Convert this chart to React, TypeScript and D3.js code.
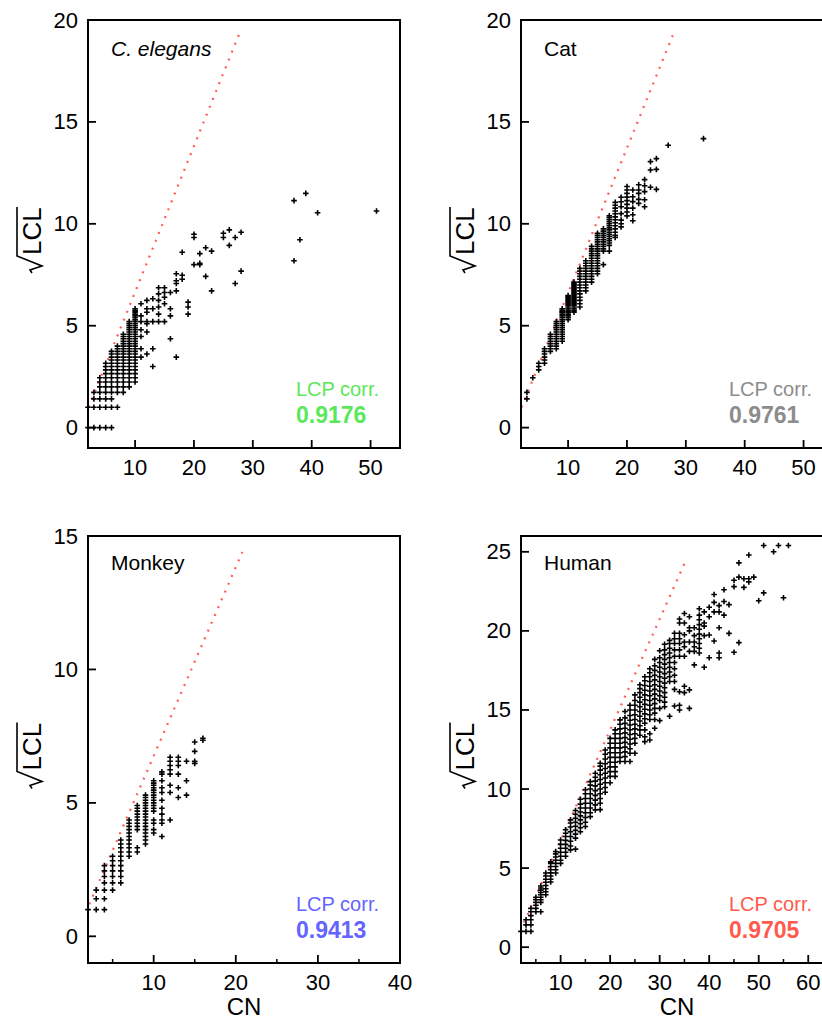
import React from 'react';
import * as d3 from 'd3';

// each row: [CN, list of sqrt(LCL) values]
const celegansCols: [number, number[]][] = [
  [2, [0, 1]],
  [3, [0, 1, 1.41, 1.73]],
  [4, [0, 1, 1.41, 1.73, 2, 2.24, 2.45]],
  [5, [0, 1, 1.41, 1.73, 2, 2.24, 2.45, 2.65, 2.83, 3, 3.16]],
  [6, [0, 1, 1.41, 1.73, 2, 2.24, 2.45, 2.65, 2.83, 3, 3.16, 3.32, 3.46, 3.61, 3.74]],
  [7, [1, 1.73, 2, 2.24, 2.45, 2.65, 2.83, 3, 3.16, 3.32, 3.46, 3.61, 3.74, 3.87, 4]],
  [8, [1.73, 2, 2.24, 2.45, 2.65, 2.83, 3, 3.16, 3.32, 3.46, 3.61, 3.74, 3.87, 4, 4.12, 4.24, 4.36, 4.47, 4.58]],
  [9, [2, 2.24, 2.45, 2.65, 2.83, 3, 3.16, 3.32, 3.46, 3.61, 3.74, 3.87, 4, 4.12, 4.24, 4.36, 4.47, 4.58, 4.69, 4.8, 4.9, 5, 5.1, 5.2]],
  [10, [2.24, 2.45, 2.65, 2.83, 3, 3.16, 3.32, 3.46, 3.61, 3.74, 3.87, 4, 4.12, 4.24, 4.36, 4.47, 4.58, 4.69, 4.8, 4.9, 5, 5.1, 5.2, 5.29, 5.39, 5.48, 5.57, 5.66, 5.74, 5.83]],
  [11, [3.46, 3.87, 4.47, 4.8, 5.2, 5.48, 6.08]],
  [12, [3.61, 4.69, 5.1, 5.2, 5.66, 5.83, 6.24]],
  [13, [3.0, 3.87, 5.2, 5.83, 6.32]],
  [14, [5.2, 5.57, 5.92, 6.24, 6.56, 6.86]],
  [15, [5.2, 6.08, 6.4, 6.63, 6.86]],
  [16, [4.36, 5.48, 5.83, 6.63]],
  [17, [3.46, 6.71, 7.07, 7.21, 7.55]],
  [18, [7.28, 7.48, 8.6]],
  [19, [5.57, 5.92, 6.16]],
  [20, [8, 9.33, 9.49]],
  [21, [8.0, 8.06, 8.54]],
  [22, [7.42, 8.83]],
  [23, [6.71, 8.66]],
  [25, [9.33, 9.54]],
  [26, [8.94, 9.7]],
  [27, [7.07, 9.33]],
  [28, [7.68, 9.59]],
  [37, [8.19, 11.14]],
  [38, [9.22]],
  [39, [11.49]],
  [41, [10.54]],
  [51, [10.63]],
];

const catCols: [number, number[]][] = [
  [3, [1.41, 1.73]],
  [4, [2.45]],
  [5, [2.83, 3, 3.16]],
  [6, [3.16, 3.32, 3.46, 3.61, 3.74, 3.87]],
  [7, [3.74, 3.87, 4, 4.12, 4.24, 4.36, 4.47, 4.58]],
  [8, [3.87, 4, 4.12, 4.24, 4.36, 4.47, 4.58, 4.69, 4.8, 4.9, 5, 5.1, 5.2]],
  [9, [4.24, 4.36, 4.47, 4.58, 4.69, 4.8, 4.9, 5, 5.1, 5.2, 5.29, 5.39, 5.48, 5.57, 5.66, 5.74, 5.83]],
  [10, [5.29, 5.39, 5.48, 5.57, 5.66, 5.74, 5.83, 5.92, 6, 6.08, 6.16, 6.24, 6.32, 6.4, 6.48]],
  [11, [5.66, 5.74, 5.83, 5.92, 6, 6.08, 6.16, 6.24, 6.32, 6.4, 6.48, 6.56, 6.63, 6.71, 6.78, 6.86, 6.93, 7, 7.07, 7.14]],
  [12, [5.92, 6.08, 6.24, 6.4, 6.56, 6.71, 6.86, 7, 7.14, 7.28, 7.42, 7.55, 7.68, 7.81]],
  [13, [6.71, 6.86, 7, 7.14, 7.28, 7.42, 7.55, 7.68, 7.81, 7.94, 8.06, 8.19]],
  [14, [7.14, 7.28, 7.42, 7.55, 7.68, 7.81, 7.94, 8.06, 8.19, 8.31, 8.43, 8.54, 8.66, 8.77, 8.89]],
  [15, [7.55, 7.68, 7.81, 7.94, 8.06, 8.19, 8.31, 8.43, 8.54, 8.66, 8.77, 8.89, 9, 9.11, 9.22, 9.33, 9.43, 9.54]],
  [16, [8, 8.66, 8.77, 8.89, 9, 9.11, 9.22, 9.33, 9.43, 9.54, 9.64, 9.75]],
  [17, [8.66, 8.94, 9.06, 9.17, 9.27, 9.38, 9.49, 9.59, 9.7, 9.8, 9.9, 10, 10.1, 10.2, 10.3, 10.39]],
  [18, [9.33, 9.43, 9.59, 9.75, 9.9, 10.05, 10.2, 10.34, 10.49, 10.63, 10.77, 10.91, 11.05]],
  [19, [9.85, 10.0, 10.18, 10.5, 10.84, 11.08, 11.3]],
  [20, [10.39, 10.58, 10.77, 10.95, 11.14, 11.31, 11.49, 11.66, 11.83]],
  [21, [10.15, 10.44, 10.77, 11.09, 11.33, 11.66]],
  [22, [11.0, 11.2, 11.49, 11.66, 11.92]],
  [23, [10.84, 11.18, 11.58, 11.87, 12.17]],
  [24, [11.79, 12.64, 13.05]],
  [25, [11.69, 12.67, 13.2]],
  [27, [13.85]],
  [33, [14.18]],
];

const monkeyCols: [number, number[]][] = [
  [2, [1]],
  [3, [1, 1.41, 1.73]],
  [4, [1, 1.41, 1.73, 2, 2.24, 2.45, 2.65]],
  [5, [1.73, 2, 2.24, 2.45, 2.65, 2.83, 3]],
  [6, [2, 2.24, 2.45, 2.65, 2.83, 3, 3.16, 3.32, 3.46, 3.61]],
  [7, [3, 3.16, 3.32, 3.46, 3.61, 3.74, 3.87, 4, 4.12, 4.24, 4.36]],
  [8, [3.16, 3.32, 4, 4.12, 4.24, 4.36, 4.47, 4.58, 4.69, 4.8, 4.9]],
  [9, [3.46, 3.61, 3.74, 3.87, 4, 4.12, 4.24, 4.36, 4.47, 4.58, 4.69, 4.8, 4.9, 5.0, 5.1, 5.2, 5.29]],
  [10, [3.87, 4, 4.24, 4.36, 4.69, 4.8, 4.9, 5, 5.1, 5.2, 5.29, 5.39, 5.48, 5.57, 5.66, 5.74, 5.83]],
  [11, [3.74, 4.24, 4.36, 4.58, 4.8, 5.1, 5.39, 5.57, 5.83, 6.08, 6.16]],
  [12, [4.36, 5.39, 5.66, 6.08, 6.24, 6.4, 6.56, 6.71]],
  [13, [5.2, 5.57, 6.08, 6.4, 6.56, 6.71]],
  [14, [5.29, 5.83, 6.56]],
  [15, [6.48, 6.56, 6.93, 7.28]],
  [16, [7.35, 7.42]],
];

const humanCols: [number, number[]][] = [
  [2, [1]],
  [3, [1, 1.41, 1.73]],
  [4, [1, 1.41, 1.73, 2, 2.24, 2.45]],
  [5, [2.24, 2.45, 2.65, 2.83, 3, 3.16]],
  [6, [2.24, 2.83, 3, 3.16, 3.32, 3.46, 3.61, 3.74, 3.87]],
  [7, [3.32, 3.5, 3.7, 3.9, 4.1, 4.3, 4.5, 4.69]],
  [8, [4.12, 4.3, 4.5, 4.7, 4.9, 5.1, 5.3, 5.4]],
  [9, [4.69, 4.9, 5.1, 5.3, 5.5, 5.7, 5.9, 6.05]],
  [10, [5.3, 5.5, 5.75, 6.0, 6.25, 6.5, 6.78]],
  [11, [5.75, 6.0, 6.25, 6.5, 6.75, 7.0, 7.2, 7.42]],
  [12, [6.15, 6.4, 6.7, 7.0, 7.3, 7.6, 7.85, 8.05]],
  [13, [6.2, 6.9, 7.15, 7.4, 7.65, 7.9, 8.15, 8.4, 8.64]],
  [14, [7.3, 7.55, 7.8, 8.05, 8.3, 8.55, 8.8, 9.05, 9.35]],
  [15, [7.63, 7.9, 8.2, 8.5, 8.8, 9.1, 9.4, 9.7, 9.95]],
  [16, [8.26, 8.5, 8.8, 9.1, 9.4, 9.7, 10.0, 10.25, 10.47]],
  [17, [8.68, 9.0, 9.3, 9.6, 9.9, 10.2, 10.5, 10.75, 11.0]],
  [18, [8.7, 9.1, 9.4, 9.7, 10.0, 10.3, 10.6, 10.9, 11.2, 11.45, 11.63]],
  [19, [9.8, 10.1, 10.4, 10.7, 11.0, 11.3, 11.6, 11.9, 12.2, 12.47]],
  [20, [10.4, 10.8, 11.1, 11.4, 11.7, 12.0, 12.3, 12.6, 12.9, 13.2]],
  [21, [10.8, 11.1, 11.4, 11.7, 12.0, 12.3, 12.6, 12.9, 13.2, 13.5, 13.74]],
  [22, [11.74, 12.0, 12.3, 12.6, 12.9, 13.2, 13.5, 13.8, 14.1, 14.37]],
  [23, [11.74, 12.05, 12.35, 12.65, 12.95, 13.25, 13.55, 13.85, 14.15, 14.5, 14.9]],
  [24, [11.74, 12.26, 12.55, 12.85, 13.15, 13.45, 13.75, 14.05, 14.35, 14.65, 15.0, 15.3]],
  [25, [12.26, 12.9, 13.2, 13.5, 13.8, 14.1, 14.4, 14.7, 15.0, 15.3, 15.6, 15.95]],
  [26, [13.4, 13.74, 14.0, 14.3, 14.6, 14.9, 15.2, 15.5, 15.8, 16.1, 16.35, 16.6]],
  [27, [13.0, 13.3, 13.74, 14.16, 14.45, 14.75, 15.05, 15.35, 15.65, 15.95, 16.25, 16.55, 16.85, 17.1]],
  [28, [13.1, 13.5, 14.4, 14.7, 15.0, 15.3, 15.6, 15.9, 16.2, 16.5, 16.8, 17.1, 17.35, 17.6]],
  [29, [13.84, 14.4, 14.8, 15.1, 15.4, 15.7, 16.0, 16.3, 16.6, 16.9, 17.2, 17.5, 17.8, 18.2]],
  [30, [14.33, 15.1, 15.6, 15.9, 16.2, 16.5, 16.8, 17.1, 17.4, 17.7, 18.0, 18.3, 18.75]],
  [31, [15.2, 15.5, 15.8, 16.1, 16.4, 16.7, 17.0, 17.3, 17.6, 17.9, 18.2, 18.5, 18.8, 19.15]],
  [32, [14.6, 16.8, 17.1, 17.4, 17.7, 18.0, 18.3, 18.6, 18.9, 19.2, 19.4]],
  [33, [15.25, 16.3, 16.8, 17.2, 17.6, 18.0, 18.4, 18.8, 19.2, 19.5, 19.85]],
  [34, [15.0, 15.3, 16.15, 18.4, 18.8, 19.2, 19.5, 19.85, 20.5, 20.75]],
  [35, [16.1, 16.5, 18.4, 19.0, 19.3, 19.75, 20.5, 21.1]],
  [36, [15.1, 16.27, 18.7, 19.3, 20.0, 20.2, 20.9]],
  [37, [17.85, 18.7, 19.0, 19.3, 19.7, 20.2]],
  [38, [18.6, 18.9, 19.2, 19.5, 19.8, 20.1, 20.4, 20.7, 21.0, 21.4]],
  [39, [17.7, 19.7, 20.3, 20.5, 21.2]],
  [40, [18.3, 19.74, 20.9, 21.5]],
  [41, [19.36, 21.2, 21.8, 22.3]],
  [42, [18.3, 18.6, 20.2, 21.2, 21.6]],
  [43, [21.0, 21.86, 22.6]],
  [44, [19.84, 21.66]],
  [45, [18.65, 22.8, 23.2]],
  [46, [19.26, 23.4, 24.3]],
  [47, [22.75, 23.3]],
  [48, [23.1, 23.3, 24.8]],
  [49, [23.4]],
  [50, [21.9]],
  [51, [22.4, 25.4]],
  [53, [25.0]],
  [54, [25.4]],
  [55, [22.1]],
  [56, [25.4]],
];

const panelNames = ['C. elegans', 'Cat', 'Monkey', 'Human'];
const corrValues = ['0.9176', '0.9761', '0.9413', '0.9705'];
const xDomains: [number, number][] = [[2, 55], [2, 55], [2, 40], [2, 65]];
const yDomains: [number, number][] = [[-1, 20], [-1, 20], [-1, 15], [-1, 26]];
const xTickVals = [[10, 20, 30, 40, 50], [10, 20, 30, 40, 50], [10, 20, 30, 40], [10, 20, 30, 40, 50, 60]];
const xMinorVals = [[], [], [5, 15, 25, 35], [5, 15, 25, 35, 45, 55]];
const yTickVals = [[0, 5, 10, 15, 20], [0, 5, 10, 15, 20], [0, 5, 10, 15], [0, 5, 10, 15, 20, 25]];
// ends of the dotted bound line, in data units
const boundLines: [number, number][][] = [
  [[2.1, 1.0], [27.8, 19.4]],
  [[2.1, 1.0], [28, 19.4]],
  [[2.15, 1.2], [20.8, 14.4]],
  [[2.6, 1.55], [35.2, 24.4]],
];
const allCols = [celegansCols, catCols, monkeyCols, humanCols];

const corrColors = ['#5ae85a', '#8c8c8c', '#6464ff', '#ff5a4c'];
const boxes = [
  { left: 88, top: 20, width: 312, height: 428 },
  { left: 521, top: 20, width: 312, height: 428 },
  { left: 88, top: 536, width: 312, height: 427 },
  { left: 521, top: 536, width: 312, height: 427 },
];
const FONT = '"Liberation Sans", Arial, Helvetica, sans-serif';

function Panel({ i }: { i: number }) {
  const b = boxes[i];
  const x = d3.scaleLinear().domain(xDomains[i]).range([b.left, b.left + b.width]);
  const y = d3.scaleLinear().domain(yDomains[i]).range([b.top + b.height, b.top]);
  const bottom = b.top + b.height;
  const pts = allCols[i].flatMap(([cn, vals]) => vals.map(v => [cn, v]));
  const arm = 2.8;
  const plus = pts
    .map(([cn, v]) => {
      const px = x(cn), py = y(v);
      return `M${(px - arm).toFixed(1)},${py.toFixed(1)}h${2 * arm}M${px.toFixed(1)},${(py - arm).toFixed(1)}v${2 * arm}`;
    })
    .join('');
  const line = d3.line<[number, number]>().x(d => x(d[0])).y(d => y(d[1]));
  const bottomRow = i >= 2;
  const cy = b.top + b.height / 2 + 5;
  return (
    <g fontFamily={FONT}>
      <path d={line(boundLines[i]) || ''} fill="none" stroke="#ff5c5c" strokeWidth={2.2}
        strokeDasharray="2 6.5" />
      <path d={plus} stroke="#000" strokeWidth={1.6} fill="none" />
      <rect x={b.left} y={b.top} width={b.width} height={b.height} fill="none" stroke="#000" strokeWidth={2} />
      {yTickVals[i].map(t => (
        <g key={'y' + t}>
          <line x1={b.left} x2={b.left + 8} y1={y(t)} y2={y(t)} stroke="#000" strokeWidth={1.8} />
          <text x={b.left - 10} y={y(t)} textAnchor="end" dominantBaseline="central" fontSize={22}>{t}</text>
        </g>
      ))}
      {xTickVals[i].map(t => (
        <g key={'x' + t}>
          <line x1={x(t)} x2={x(t)} y1={bottom} y2={bottom - 8} stroke="#000" strokeWidth={1.8} />
          <text x={x(t)} y={bottom + 27} textAnchor="middle" fontSize={22}>{t}</text>
        </g>
      ))}
      {xMinorVals[i].map(t => (
        <line key={'m' + t} x1={x(t)} x2={x(t)} y1={bottom} y2={bottom - 4} stroke="#000" strokeWidth={1.5} />
      ))}
      <text x={b.left + 23} y={b.top + (i < 2 ? 36 : 34)} fontSize={21} fontStyle={i === 0 ? 'italic' : 'normal'}>
        {panelNames[i]}
      </text>
      <text x={b.left + b.width - 104} y={bottom - 52} fontSize={20} fill={corrColors[i]}>LCP corr.</text>
      <text x={b.left + b.width - 104} y={bottom - 25} fontSize={23} fontWeight="bold" fill={corrColors[i]}>
        {corrValues[i]}
      </text>
      <g transform={`translate(${b.left - 47},${cy}) rotate(-90)`}>
        <path d="M-34,-9 L-31,-11 L-27,1 L-17,-24 L32,-24" fill="none" stroke="#000" strokeWidth={1.6} />
        <text x={-16} y={0} fontSize={26}>LCL</text>
      </g>
      {bottomRow && (
        <text x={b.left + b.width / 2} y={1015} textAnchor="middle" fontSize={24}>CN</text>
      )}
    </g>
  );
}

export default function App() {
  return (
    <svg width={822} height={1021} style={{ position: 'absolute', left: 0, top: 0, background: '#fff' }}>
      {[0, 1, 2, 3].map(i => <Panel key={i} i={i} />)}
    </svg>
  );
}
